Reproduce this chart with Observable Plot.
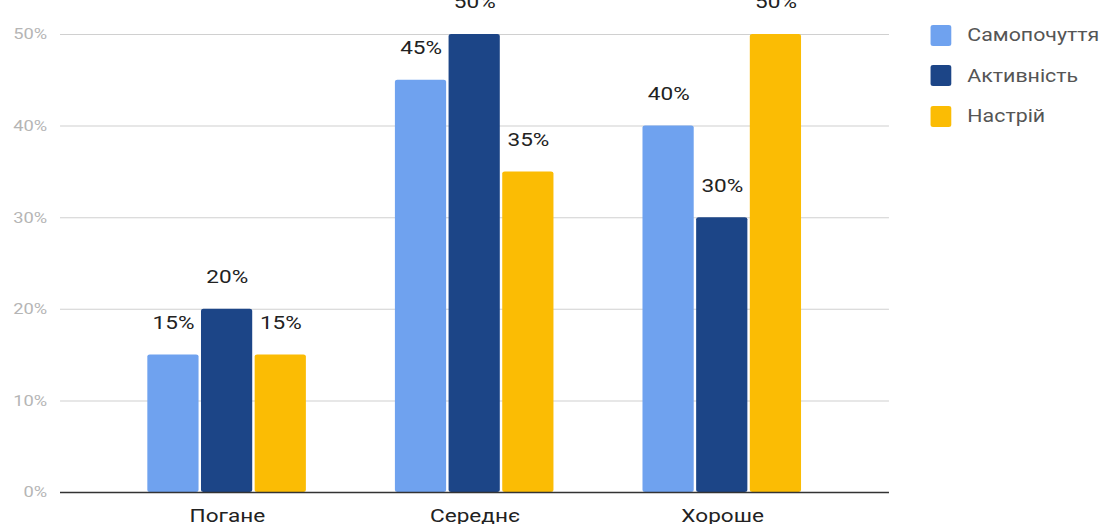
<!DOCTYPE html>
<html>
<head>
<meta charset="utf-8">
<script src="https://cdn.jsdelivr.net/npm/d3@7"></script>
<script src="https://cdn.jsdelivr.net/npm/@observablehq/plot@0.6"></script>
<style>
  html, body { margin: 0; padding: 0; background: #fff; }
  body { width: 1105px; height: 524px; overflow: hidden; position: relative; font-family: Roboto, "Noto Sans", sans-serif; }
  /* the whole chart is laid out narrower and widened horizontally */
  #stage { position: absolute; left: 0; top: 0; width: 906px; height: 524px; transform: scaleX(1.2196); transform-origin: 0 0; }
  .layer { position: absolute; left: 0; top: 0; }
  #legend { position: absolute; left: 763px; top: 15px; }
  .row { display: flex; align-items: center; height: 40.5px; }
  .sw { width: 17.2px; height: 21px; border-radius: 2px; margin-right: 13px; }
  .lab { font-size: 17.5px; color: #555; white-space: nowrap; }
</style>
</head>
<body>
<div id="stage">
  <div id="back" class="layer"></div>
  <div id="front" class="layer"></div>
  <div id="base" class="layer"></div>
  <div id="legend"></div>
</div>
<script>
// Rating categories along the x axis
const categories = ["Погане", "Середнє", "Хороше"];
// Series shown inside each category group
const series = ["Самопочуття", "Активність", "Настрій"];
const colors = ["#6fa2ef", "#1c4587", "#fbbc04"];
// Percentages per series, in category order
const samopochuttia = [15, 45, 40];
const aktyvnist = [20, 50, 30];
const nastrii = [15, 35, 50];
const yTicks = [0, 10, 20, 30, 40, 50];

const valuesBySeries = [samopochuttia, aktyvnist, nastrii];
const data = [];
categories.forEach((c, i) => {
  series.forEach((s, j) => data.push({category: c, series: s, value: valuesBySeries[j][i]}));
});

// Shared frame so all layers line up exactly
const frame = {
  width: 906,
  height: 524,
  marginLeft: 49.2,
  marginRight: 177.1,
  marginTop: 34,
  marginBottom: 32,
  style: {fontFamily: "Roboto, 'Noto Sans', sans-serif", background: "transparent", overflow: "visible"}
};
const groupBand = {type: "band", domain: categories, paddingInner: 0.36, paddingOuter: 0.348, label: null};
const yScale = {domain: [0, 50], label: null};

// Background layer: gridlines, y axis, category labels
const back = Plot.plot({
  ...frame,
  x: groupBand,
  y: yScale,
  marks: [
    Plot.gridY(yTicks.filter(d => d > 0), {stroke: "#d0d0d0", strokeOpacity: 1, strokeWidth: 1}),
    Plot.axisY(yTicks, {
      tickSize: 0, tickPadding: 11, fontSize: 15, fill: "#b5b5b5",
      tickFormat: d => d + "%", label: null
    }),
    Plot.axisX({tickSize: 0, tickPadding: 16, fontSize: 18.5, fill: "#222", label: null})
  ]
});

// Foreground layer: grouped bars with value labels
const front = Plot.plot({
  ...frame,
  fx: {...groupBand, axis: null},
  x: {domain: series, paddingInner: 0.056, paddingOuter: 0, axis: null},
  y: {...yScale, axis: null},
  color: {domain: series, range: colors},
  marks: [
    Plot.barY(data, {fx: "category", x: "series", y: "value", fill: "series", rx: 2}),
    Plot.text(data, {
      fx: "category", x: "series", y: "value",
      text: d => d.value + "%", dy: -32, fontSize: 18.5, fill: "#222"
    })
  ]
});

// Baseline drawn over the bars
const base = Plot.plot({
  ...frame,
  x: {...groupBand, axis: null},
  y: {...yScale, axis: null},
  marks: [Plot.ruleY([0], {stroke: "#333", strokeWidth: 1.5})]
});

document.getElementById("back").appendChild(back);
document.getElementById("front").appendChild(front);
document.getElementById("base").appendChild(base);
document.getElementById("base").style.pointerEvents = "none";

// Legend: colour swatch + series name per row
const legend = document.getElementById("legend");
series.forEach((s, i) => {
  const row = document.createElement("div");
  row.className = "row";
  const sw = document.createElement("div");
  sw.className = "sw";
  sw.style.background = colors[i];
  const lab = document.createElement("div");
  lab.className = "lab";
  lab.textContent = s;
  row.appendChild(sw);
  row.appendChild(lab);
  legend.appendChild(row);
});
</script>
</body>
</html>
